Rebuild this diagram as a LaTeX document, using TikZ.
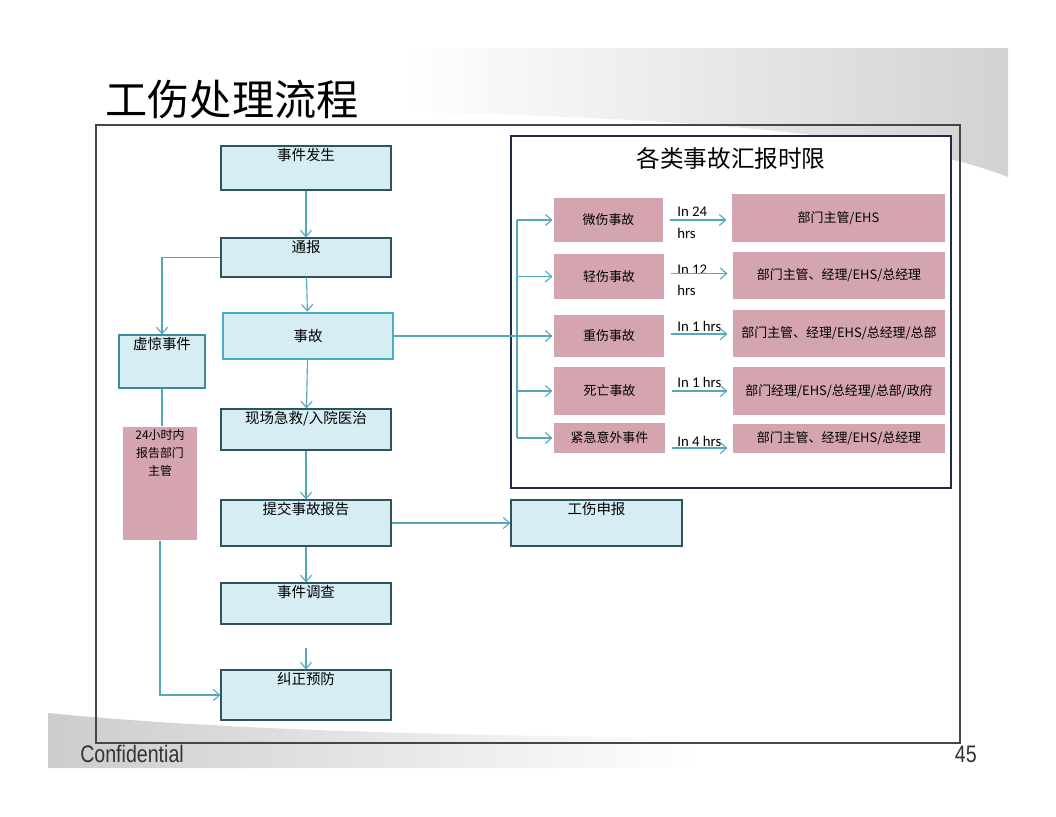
\documentclass[tikz,border=0pt]{standalone}
\usepackage{fontspec}
\setmainfont{Carlito}
\newfontfamily\cjk{Noto Sans CJK SC}
\newfontfamily\footfont[FakeStretch=0.82]{Liberation Sans}
\usetikzlibrary{arrows.meta, positioning, fit, calc}
\definecolor{boxblue}{RGB}{214,237,244}
\definecolor{boxedge}{RGB}{45,85,95}
\definecolor{linkteal}{RGB}{85,168,188}
\definecolor{accentteal}{RGB}{75,172,198}
\definecolor{boxpink}{RGB}{212,165,175}
\definecolor{panelnavy}{RGB}{30,42,78}
\definecolor{framegray}{RGB}{70,70,70}

\begin{document}
\begin{tikzpicture}[
    x=0.025cm, y=-0.025cm,
    stepbox/.style={draw=boxedge, line width=0.8pt, fill=boxblue, inner sep=0pt},
    keybox/.style={draw=accentteal, line width=2pt, fill=boxblue, inner sep=0pt},
    pinkbox/.style={fill=boxpink, draw=white, line width=0.8pt, inner sep=0pt},
    pinktext/.style={inner sep=0pt, font=\cjk\fontsize{9.2}{11}\selectfont},
    toptext/.style={anchor=north, inner sep=2pt, font=\cjk\fontsize{10.3}{12}\selectfont},
    hrslabel/.style={anchor=west, inner sep=0pt, font=\fontsize{10.5}{12}\selectfont},
    link/.style={draw=linkteal, line width=0.8pt},
    flow/.style={link, -{Straight Barb[length=1.6mm, width=2.8mm]}}
]
    \useasboundingbox (0,0) rectangle (1056,816);

    % Slide background
    \shade[left color=white, right color=gray!35] (400,48) -- (1008,48) -- (1008,177) .. controls (900,135) and (700,118) .. (400,112) -- cycle;
    \shade[left color=gray!40, right color=white] (48,713) .. controls (200,728) and (400,735) .. (700,738) -- (700,768) -- (48,768) -- cycle;

    % Title and frame
    \node[font=\cjk\fontsize{30}{36}\selectfont] (title) at (232,100) {工伤处理流程};
    \draw[framegray, line width=1.5pt] (96,125) rectangle (960,743);

    % Main flow
    \node[stepbox, fit={(221,146) (391,190)}] (fs) {};
    \node[toptext] (fst) at (fs.north) {事件发生};
    \node[stepbox, fit={(221,238) (391,277)}] (tb) {};
    \node[toptext] (tbt) at (tb.north) {通报};
    \node[keybox, fit={(223,313) (393,359)}] (sg) {};
    \node[toptext, anchor=center] (sgt) at (sg.center) {事故};
    \node[stepbox, fit={(221,409) (391,450)}] (jz) {};
    \node[toptext] (jzt) at (jz.north) {现场急救/入院医治};
    \node[stepbox, fit={(221,500) (391,546)}] (tj) {};
    \node[toptext] (tjt) at (tj.north) {提交事故报告};
    \node[stepbox, fit={(221,583) (391,624)}] (dc) {};
    \node[toptext] (dct) at (dc.north) {事件调查};
    \node[stepbox, fit={(221,670) (391,720)}] (yf) {};
    \node[toptext] (yft) at (yf.north) {纠正预防};
    \node[stepbox, fit={(511,500) (682,546)}] (gs) {};
    \node[toptext] (gst) at (gs.north) {工伤申报};

    % Near miss branch
    \node[stepbox, draw=accentteal!80!black, fit={(119,335) (205,388)}] (xj) {};
    \node[toptext] (xjt) at (xj.north) {虚惊事件};
    \node[pinkbox, draw=none, fit={(123,427) (197,540)}] (bg) {};
    \node[toptext, align=center, font=\cjk\fontsize{8.5}{12.8}\selectfont] (bgt) at (bg.north) {24小时内\\报告部门\\主管};

    % Reporting limits panel
    \draw[panelnavy, line width=2pt, fill=white] (511,136) rectangle (951,488);
    \node[font=\cjk\fontsize{16.8}{20}\selectfont] (ptitle) at (731,158) {各类事故汇报时限};

    \node[pinkbox, fit={(553,197) (664,243)}] (w1) {};
    \node[pinkbox, fit={(553,253) (665,300)}] (w2) {};
    \node[pinkbox, fit={(553,314) (665,358)}] (w3) {};
    \node[pinkbox, fit={(553,366) (666,416)}] (w4) {};
    \node[pinkbox, fit={(553,422) (666,454)}] (w5) {};
    \node[pinktext] (w1t) at (w1) {微伤事故};
    \node[pinktext] (w2t) at (w2) {轻伤事故};
    \node[pinktext] (w3t) at (w3) {重伤事故};
    \node[pinktext] (w4t) at (w4) {死亡事故};
    \node[pinktext] (w5t) at (w5) {紧急意外事件};

    \node[pinkbox, fit={(731,193) (946,243)}] (r1) {};
    \node[pinkbox, fit={(732,251) (946,300)}] (r2) {};
    \node[pinkbox, fit={(732,309) (946,358)}] (r3) {};
    \node[pinkbox, fit={(732,366) (946,416)}] (r4) {};
    \node[pinkbox, fit={(732,423) (946,454)}] (r5) {};
    \node[pinktext] (r1t) at (r1) {部门主管/EHS};
    \node[pinktext] (r2t) at (r2) {部门主管、经理/EHS/总经理};
    \node[pinktext] (r3t) at (r3) {部门主管、经理/EHS/总经理/总部};
    \node[pinktext] (r4t) at (r4) {部门经理/EHS/总经理/总部/政府};
    \node[pinktext] (r5t) at (r5) {部门主管、经理/EHS/总经理};

    \node[hrslabel] (h1) at (677,212) {In 24};
    \node[hrslabel] (h1b) at (677,233) {hrs};
    \node[hrslabel] (h2) at (677,270) {In 12};
    \node[hrslabel] (h2b) at (677,290) {hrs};
    \node[hrslabel] (h3) at (677,326) {In 1 hrs};
    \node[hrslabel] (h4) at (677,382) {In 1 hrs};
    \node[hrslabel] (h5) at (677,441) {In 4 hrs};

    % Connectors
    \draw[flow] (fs) -- (tb);
    \draw[flow] (tb) -- (sg);
    \draw[flow] (sg) -- (jz);
    \draw[flow] (jz) -- (tj);
    \draw[flow] (tj) -- (dc);
    \draw[flow, shorten <=17pt] (dc) -- (yf);
    \draw[flow] (tj) -- (gs);
    \draw[flow] (tb.west) -| (xj.north);
    \draw[link] (xj.south) -- (xj.south |- bg.north);
    \draw[flow] (bg.south) |- (yf.west);

    \coordinate (brk) at (517,336);
    \draw[link] (sg.east) -- (brk);
    \draw[link] (brk |- w1.west) -- (brk |- w5.west);
    \foreach \w in {w1,w2,w3,w4,w5}
        \draw[flow] (brk |- \w.west) -- (\w.west);
    \foreach \i/\dy in {1/0, 2/-3, 3/-2, 4/0, 5/10}
        \draw[flow] ($(w\i.east)+(5,\dy)$) -- ($(w\i.east -| r\i.west)+(-4,\dy)$);

    % Footer
    \node[anchor=base west, inner sep=0pt, text=black!80, font=\footfont\fontsize{17}{20}\selectfont] (conf) at (80,762) {Confidential};
    \node[anchor=base east, inner sep=0pt, text=black!80, font=\footfont\fontsize{17}{20}\selectfont] (pnum) at (977,762) {45};
\end{tikzpicture}
\end{document}
